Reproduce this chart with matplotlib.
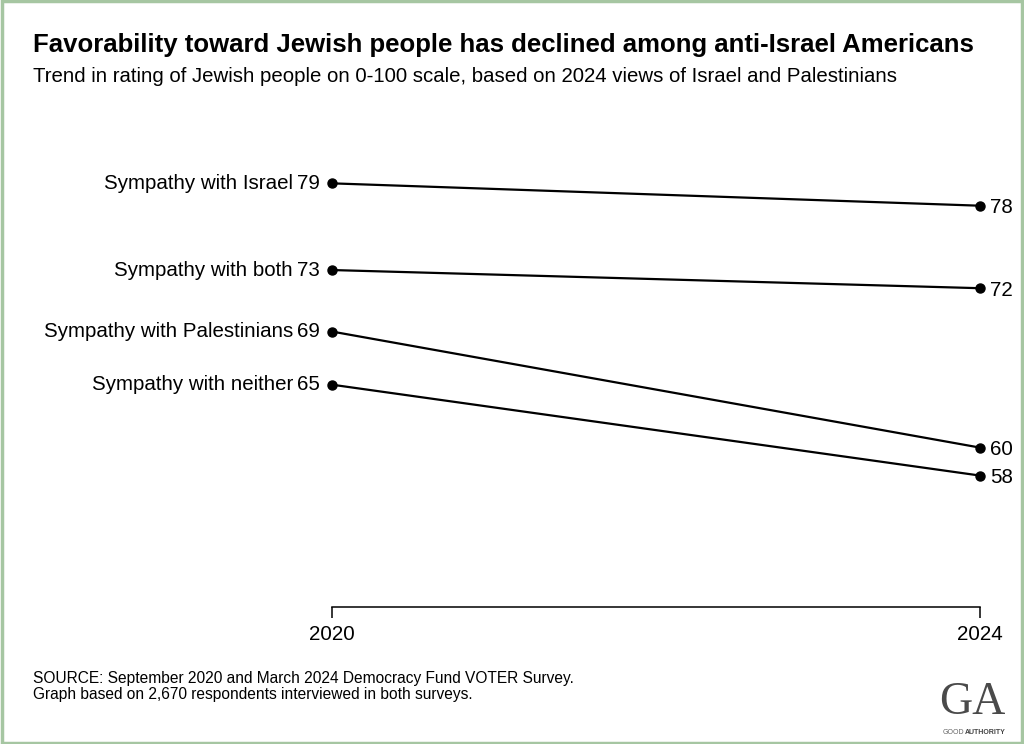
import matplotlib.pyplot as plt
from matplotlib.patches import Rectangle

plt.rcParams['font.family'] = ['Liberation Sans', 'DejaVu Sans']

years = [2020, 2024]
groups = ["Sympathy with Israel", "Sympathy with both",
          "Sympathy with Palestinians", "Sympathy with neither"]
# ratings (labels are the rounded values)
israel = [79.3, 77.7]
both = [73.1, 71.8]
palestinians = [68.7, 60.4]
neither = [64.9, 58.4]
labels_2020 = ["79", "73", "69", "65"]
labels_2024 = ["78", "72", "60", "58"]

series = [israel, both, palestinians, neither]

fig = plt.figure(figsize=(10.24, 7.44), dpi=100)
ax = fig.add_axes([332/1024, 1-607/744, (980-332)/1024, (607-140)/744])

for i, vals in enumerate(series):
    ax.plot(years, vals, color="black", lw=1.6, marker="o", ms=6.5, clip_on=False)
    ax.annotate(labels_2020[i], (years[0], vals[0]), xytext=(-9, 0),
                textcoords="offset points", ha="right", va="center", fontsize=14.8)
    ax.annotate(groups[i], (years[0], vals[0]), xytext=(-28, 0),
                textcoords="offset points", ha="right", va="center", fontsize=14.8)
    ax.annotate(labels_2024[i], (years[1], vals[1]), xytext=(7, -1.5),
                textcoords="offset points", ha="left", va="center", fontsize=14.8)

ax.set_xlim(2020, 2024)
ax.set_ylim(49.0, 82.4)
ax.set_xticks(years)
ax.set_xticklabels(["2020", "2024"], fontsize=14.8)
ax.set_yticks([])
for s in ["top", "left", "right"]:
    ax.spines[s].set_visible(False)
ax.spines["bottom"].set_linewidth(1.1)
ax.tick_params(axis="x", length=8, width=1.1, pad=5, direction="out")

fig.text(33/1024, 1-45/744, "Favorability toward Jewish people has declined among anti-Israel Americans",
         fontsize=18.5, fontweight="bold", va="center")
fig.text(33/1024, 1-77/744, "Trend in rating of Jewish people on 0-100 scale, based on 2024 views of Israel and Palestinians",
         fontsize=14.7, va="center")
fig.text(33/1024, 1-678/744, "SOURCE: September 2020 and March 2024 Democracy Fund VOTER Survey.",
         fontsize=11.2, va="center")
fig.text(33/1024, 1-695/744, "Graph based on 2,670 respondents interviewed in both surveys.",
         fontsize=11.2, va="center")

# logo
fig.text(972/1024, 1-703/744, "GA", family="Liberation Serif", fontsize=33,
         color="#4a4a4a", ha="center", va="center")
fig.text(943/1024, 1-733/744, "GOOD", fontsize=5, color="#666666", ha="left", va="center")
fig.text(965/1024, 1-733/744, "AUTHORITY", fontsize=5, color="#444444",
         fontweight="bold", ha="left", va="center")

fig.patches.append(Rectangle((0.0015, 0.002), 0.997, 0.996, transform=fig.transFigure,
                             fill=False, edgecolor="#a6c6a2", lw=2.5))

fig.savefig("out.png", dpi=100)
